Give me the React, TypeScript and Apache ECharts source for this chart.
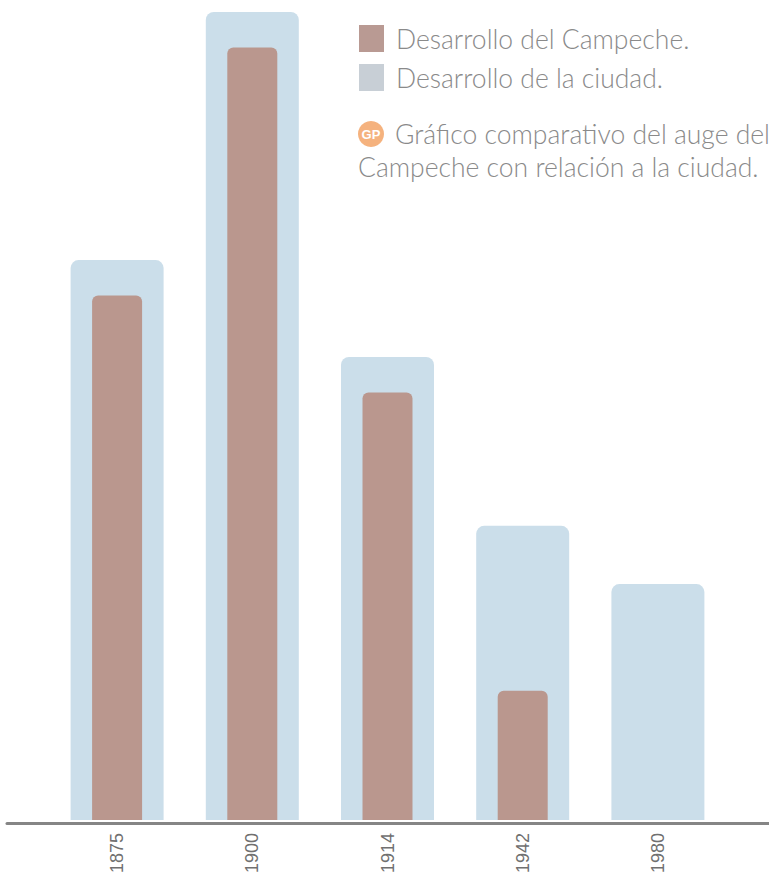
import React, { useEffect, useRef } from "react";
import * as echarts from "echarts";

const years = ["1875", "1900", "1914", "1942", "1980"];
const ciudad = [69.3, 100, 57.3, 36.4, 29.2];
const campeche = [64.9, 95.6, 52.9, 16.0, null];
const legendNames = ["Desarrollo del Campeche.", "Desarrollo de la ciudad."];
const noteLines = ["Gráfico comparativo del auge del", "Campeche con relación a la ciudad."];

export default function App() {
  const ref = useRef<HTMLDivElement>(null);
  useEffect(() => {
    document.body.style.margin = "0";
    const chart = echarts.init(ref.current!, null, { renderer: "svg" });
    const font = "Lato, 'Noto Sans', sans-serif";
    chart.setOption({
      animation: false,
      backgroundColor: "#ffffff",
      legend: {
        orient: "vertical",
        left: 359,
        top: 25,
        padding: 0,
        itemWidth: 25,
        itemHeight: 27,
        itemGap: 12,
        icon: "rect",
        selectedMode: false,
        textStyle: { color: "#8a8a8a", fontSize: 26.5, lineHeight: 27, fontFamily: font, fontWeight: 300, padding: [0, 0, 0, 7] },
        data: [
          { name: legendNames[0], itemStyle: { color: "#b99a93" } },
          { name: legendNames[1], itemStyle: { color: "#c8cfd6" } },
        ],
      },
      graphic: [
        { type: "circle", shape: { cx: 371, cy: 134, r: 13 }, style: { fill: "#f5b27e" } },
        {
          type: "text", x: 371, y: 134,
          style: { text: "GP", fill: "#ffffff", font: "bold 13px 'Liberation Sans', sans-serif", align: "center", verticalAlign: "middle" },
        },
        {
          type: "text", x: 395, y: 134,
          style: { text: noteLines[0], fill: "#8a8a8a", font: `300 26.5px ${font}`, verticalAlign: "middle" },
        },
        {
          type: "text", x: 358, y: 167,
          style: { text: noteLines[1], fill: "#8a8a8a", font: `300 26.5px ${font}`, verticalAlign: "middle" },
        },
      ],
      grid: [
        { left: 49.5, right: 43.5, top: 12, bottom: 53 },
        { left: 7, right: 0, top: 12, bottom: 53 },
      ],
      xAxis: [
        {
          type: "category", gridIndex: 0, data: years,
          axisLine: { show: false }, axisTick: { show: false },
          axisLabel: { rotate: 90, margin: 13, fontSize: 18, color: "#707070", fontFamily: "'Liberation Sans', sans-serif" },
        },
        {
          type: "category", gridIndex: 0, data: years, show: false,
        },
        {
          type: "value", gridIndex: 1, min: 0, max: 1,
          axisLine: { show: true, lineStyle: { color: "#858585", width: 3 } },
          axisTick: { show: false }, axisLabel: { show: false }, splitLine: { show: false },
        },
      ],
      yAxis: [
        { type: "value", gridIndex: 0, min: 0, max: 100, show: false, splitLine: { show: false } },
        { type: "value", gridIndex: 1, min: 0, max: 100, show: false, splitLine: { show: false } },
      ],
      series: [
        {
          name: legendNames[1], type: "bar", xAxisIndex: 0, yAxisIndex: 0, data: ciudad,
          barWidth: 93, itemStyle: { color: "#cbdeea", borderRadius: [8, 8, 0, 0] }, z: 1,
        },
        {
          name: legendNames[0], type: "bar", xAxisIndex: 1, yAxisIndex: 0, data: campeche,
          barWidth: 50, itemStyle: { color: "#ba978e", borderRadius: [6, 6, 0, 0] }, z: 2,
        },
      ],
    });
    return () => chart.dispose();
  }, []);
  return <div ref={ref} style={{ width: 769, height: 876 }} />;
}
